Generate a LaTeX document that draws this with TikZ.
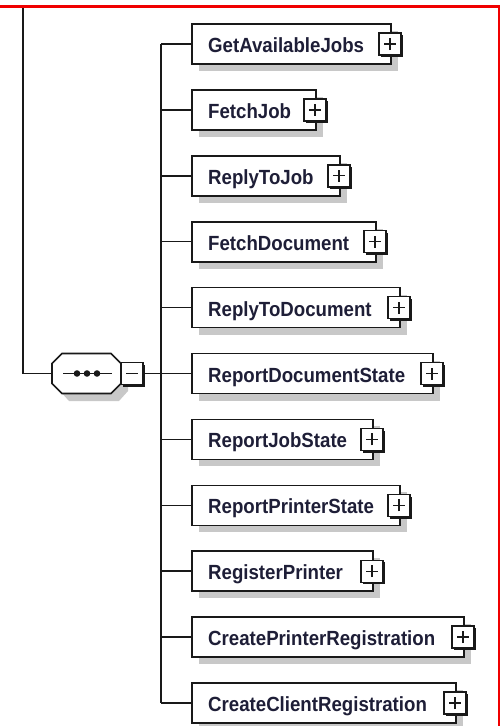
\documentclass[tikz,border=0pt]{standalone}
\usepackage{fontspec}
\newfontfamily\lblfont[FakeStretch=0.91]{Liberation Sans}
\usetikzlibrary{shadows}
\definecolor{txt}{RGB}{30,30,55}
\definecolor{ln}{RGB}{25,25,25}
\definecolor{shd}{RGB}{200,200,200}
\definecolor{frame}{RGB}{240,0,0}
\begin{document}
\begin{tikzpicture}[x=1pt,y=-1pt,
  elbox/.style={draw=ln, line width=1.6pt, fill=white, minimum height=40pt,
    inner sep=0pt, anchor=west,
    drop shadow={shadow xshift=7pt, shadow yshift=-7pt, fill=shd, opacity=1}},
  lbl/.style={anchor=base west, inner sep=0pt, text=txt,
    font=\lblfont\bfseries\fontsize{20.5}{22}\selectfont},
  plusbox/.style={draw=ln, line width=1.4pt, fill=white, minimum size=22pt,
    inner sep=0pt,
    drop shadow={shadow xshift=2.2pt, shadow yshift=-2.2pt, fill=ln, opacity=1},
    path picture={\draw[ln, line width=1.3pt]
      ([xshift=-6pt]path picture bounding box.center) -- ([xshift=6pt]path picture bounding box.center)
      ([yshift=-6pt]path picture bounding box.center) -- ([yshift=6pt]path picture bounding box.center);}},
  minusbox/.style={draw=ln, line width=1.4pt, fill=white, minimum size=22pt,
    inner sep=0pt,
    drop shadow={shadow xshift=2.2pt, shadow yshift=-2.2pt, fill=ln, opacity=1},
    path picture={\draw[ln, line width=1.3pt]
      ([xshift=-6pt]path picture bounding box.center) -- ([xshift=6pt]path picture bounding box.center);}},
  conn/.style={draw=ln, line width=1.5pt}
]
\useasboundingbox (0,0) rectangle (501,726);
\fill[white] (0,0) rectangle (501,726);

% red frame
\draw[frame, line width=3pt] (0,6.5) -- (499.5,6.5);
\draw[frame, line width=2pt] (498.5,5) -- (498.5,726);

% sequence compositor
\coordinate (octL) at (52,373.5);
\fill[shd] (60,370.5) -- (69,361) -- (119,361) -- (128,370.5) -- (128,391) -- (119,401) -- (69,401) -- (60,391) -- cycle;
\draw[ln, line width=1.6pt, fill=white] (52,363.5) -- (62,353.5) -- (111,353.5) -- (121,363.5)
  -- (121,383.5) -- (111,393.5) -- (62,393.5) -- (52,383.5) -- cycle;
\draw[ln, line width=1.3pt] (63,373.5) -- (112,373.5);
\foreach \dx in {77,87,97} \fill[ln] (\dx,373.5) circle (3.3);
\node[minusbox] (mb) at (132,373.5) {};

% connector from top
\coordinate (topend) at (23,8);
\draw[conn] (topend) |- (octL);

% bus
\coordinate (busT) at (161,44);
\coordinate (busB) at (161,703);
\draw[conn] (busT) -- (busB);
\draw[conn] (mb.east) -- (mb.east -| busT);

% children
\foreach \i/\yy/\w/\t in {
  1/44/199/GetAvailableJobs,
  2/109.9/124/FetchJob,
  3/175.8/148/ReplyToJob,
  4/241.7/184/FetchDocument,
  5/307.6/208/ReplyToDocument,
  6/373.5/241/ReportDocumentState,
  7/439.4/181/ReportJobState,
  8/505.3/208/ReportPrinterState,
  9/571.2/181/RegisterPrinter,
  10/637.1/272/CreatePrinterRegistration,
  11/703/264/CreateClientRegistration}{
  \node[elbox, minimum width=\w pt] (b\i) at (191,\yy) {};
  \node[lbl] (t\i) at (208,\yy+8.5) {\t};
  \node[plusbox] (p\i) at (191+\w,\yy) {};
  \draw[conn] (b\i.west) -- (b\i.west -| busT);
}
\end{tikzpicture}
\end{document}
